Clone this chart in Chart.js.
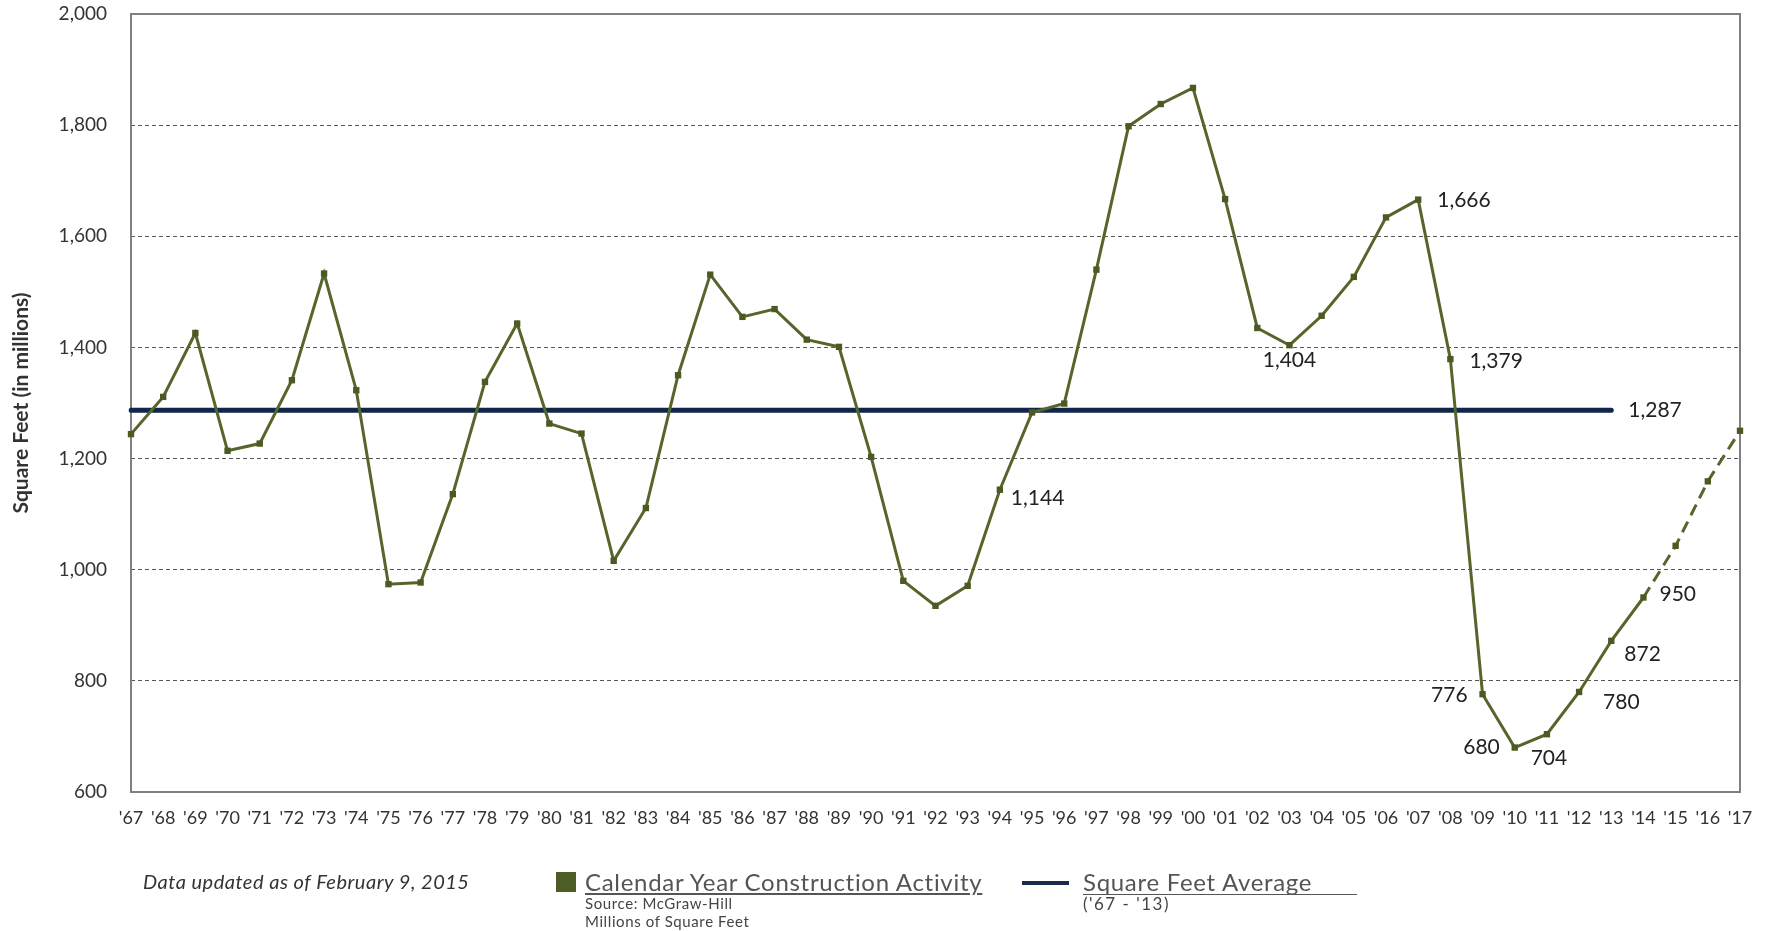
<!DOCTYPE html>
<html lang="en">
<head>
    <meta charset="UTF-8">
    <title>Construction Activity - Square Feet</title>
    <script src="https://cdn.jsdelivr.net/npm/chart.js"></script>
    <style>
        body {
            margin: 0;
            background: #ffffff;
            font-family: Lato, 'Noto Sans', sans-serif;
            color: #333;
        }
        #wrap {
            position: relative;
            width: 1769px;
            height: 931px;
        }
        .foot {
            position: absolute;
            white-space: nowrap;
            line-height: 1;
        }
        .note { left: 143px; top: 871px; font-size: 20px; letter-spacing: 0.5px; font-style: italic; color: #333; }
        .swatch { left: 556px; top: 872px; width: 20px; height: 20px; background: #4e5c26; }
        .leg1 { left: 585px; top: 870px; font-size: 24px; letter-spacing: 0.7px; color: #555; text-decoration: underline; }
        .small { font-size: 15px; letter-spacing: 0.6px; color: #444; }
        .navy { left: 1022px; top: 881px; width: 47px; height: 4px; background: #1b2a4a; }
        .leg2 { left: 1083px; top: 870px; width: 274px; font-size: 24px; letter-spacing: 0.7px; color: #555; border-bottom: 1px solid #555; }
        .range { left: 1083px; top: 895px; font-size: 17px; letter-spacing: 1.5px; color: #444; }
    </style>
</head>
<body>
<div id="wrap">
    <canvas id="chart"></canvas>
    <div class="foot note">Data updated as of February 9, 2015</div>
    <div class="foot swatch"></div>
    <div class="foot leg1">Calendar Year Construction Activity</div>
    <div class="foot small" style="left:585px; top:896px;">Source: McGraw-Hill</div>
    <div class="foot small" style="left:585px; top:914px;">Millions of Square Feet</div>
    <div class="foot navy"></div>
    <div class="foot leg2">Square Feet Average</div>
    <div class="foot range">('67 - '13)</div>
</div>

<script>
    const years = ["'67", "'68", "'69", "'70", "'71", "'72", "'73", "'74", "'75", "'76",
                   "'77", "'78", "'79", "'80", "'81", "'82", "'83", "'84", "'85", "'86",
                   "'87", "'88", "'89", "'90", "'91", "'92", "'93", "'94", "'95", "'96",
                   "'97", "'98", "'99", "'00", "'01", "'02", "'03", "'04", "'05", "'06",
                   "'07", "'08", "'09", "'10", "'11", "'12", "'13", "'14", "'15", "'16", "'17"];

    // calendar year construction activity, millions of sq ft ('15-'17 projected)
    const activity = [1244, 1311, 1426, 1214, 1227, 1341, 1533, 1323, 974, 977,
                      1136, 1338, 1443, 1263, 1245, 1016, 1111, 1350, 1531, 1455,
                      1469, 1414, 1401, 1203, 980, 935, 971, 1144, 1283, 1299,
                      1540, 1798, 1838, 1867, 1667, 1435, 1404, 1457, 1527, 1634,
                      1666, 1379, 776, 680, 704, 780, 872, 950, 1043, 1159, 1250];

    const averageValue = 1287;
    const averageFrom = "'67";
    const averageTo = "'13";
    const lastActual = "'14";

    const yTicks = [600, 800, 1000, 1200, 1400, 1600, 1800, 2000];

    const fmt = v => v.toLocaleString('en-US');

    const i0 = years.indexOf(averageFrom), i1 = years.indexOf(averageTo);
    const average = years.map((_, i) => (i >= i0 && i <= i1) ? averageValue : null);
    const dashFrom = years.indexOf(lastActual);

    // which points get a value label, and where it sits relative to the point
    const notes = [
        { year: "'07", ds: 0, align: 'left',   dx: 19,  dy: 1 },
        { year: "'03", ds: 0, align: 'center', dx: 0,   dy: 15 },
        { year: "'08", ds: 0, align: 'left',   dx: 19,  dy: 2 },
        { year: "'13", ds: 1, align: 'left',   dx: 17,  dy: 0 },
        { year: "'94", ds: 0, align: 'left',   dx: 11,  dy: 9 },
        { year: "'14", ds: 0, align: 'left',   dx: 16,  dy: -3 },
        { year: "'13", ds: 0, align: 'left',   dx: 13,  dy: 13 },
        { year: "'12", ds: 0, align: 'left',   dx: 24,  dy: 10 },
        { year: "'09", ds: 0, align: 'right',  dx: -15, dy: 1 },
        { year: "'10", ds: 0, align: 'right',  dx: -15, dy: 0 },
        { year: "'11", ds: 0, align: 'center', dx: 2,   dy: 24 }
    ];

    const framePlugin = {
        id: 'frame',
        beforeDatasetsDraw(chart) {
            const { ctx, chartArea: a } = chart;
            ctx.save();
            ctx.strokeStyle = '#808080';
            ctx.lineWidth = 2;
            ctx.strokeRect(a.left, a.top, a.right - a.left, a.bottom - a.top);
            ctx.restore();
        },
        afterDatasetsDraw(chart) {
            const { ctx } = chart;
            const series = [activity, average];
            ctx.save();
            ctx.font = '21px Lato';
            ctx.fillStyle = '#222';
            ctx.textBaseline = 'middle';
            notes.forEach(n => {
                const idx = years.indexOf(n.year);
                const pt = chart.getDatasetMeta(n.ds).data[idx];
                ctx.textAlign = n.align;
                ctx.fillText(fmt(series[n.ds][idx]), pt.x + n.dx, pt.y + n.dy);
            });
            ctx.restore();
        }
    };

    const olive = '#56652b';

    new Chart(document.getElementById('chart'), {
        type: 'line',
        data: {
            labels: years,
            datasets: [{
                label: 'Calendar Year Construction Activity',
                data: activity,
                borderColor: olive,
                backgroundColor: '#4b5923',
                borderWidth: 3,
                pointStyle: 'rect',
                pointRadius: 4.5,
                pointBorderWidth: 0,
                tension: 0,
                clip: false,
                segment: {
                    borderDash: c => c.p0DataIndex >= dashFrom ? [12, 7] : undefined
                },
                order: 1
            }, {
                label: 'Square Feet Average',
                data: average,
                borderColor: '#13254a',
                borderWidth: 5,
                pointRadius: 0,
                borderCapStyle: 'round',
                order: 2
            }]
        },
        options: {
            responsive: true,
            maintainAspectRatio: false,
            animation: false,
            layout: { padding: { top: 14, right: 29, left: 0, bottom: 0 } },
            plugins: {
                legend: { display: false },
                tooltip: { enabled: false }
            },
            scales: {
                x: {
                    offset: false,
                    grid: { display: false, drawTicks: false },
                    border: { display: false },
                    ticks: {
                        autoSkip: false,
                        maxRotation: 0,
                        padding: 15,
                        color: '#333',
                        font: { family: 'Lato', size: 18 }
                    },
                    afterFit: s => { s.height = 139; }
                },
                y: {
                    min: 600,
                    max: 2000,
                    afterBuildTicks: s => { s.ticks = yTicks.map(v => ({ value: v })); },
                    grid: {
                        drawTicks: false,
                        color: c => (c.tick.value === 600 || c.tick.value === 2000) ? 'rgba(0,0,0,0)' : '#555',
                        lineWidth: 1
                    },
                    border: { display: false, dash: [4, 3] },
                    ticks: {
                        padding: 24,
                        color: '#333',
                        font: { family: 'Lato', size: 19 },
                        callback: v => fmt(v)
                    },
                    title: {
                        display: true,
                        text: 'Square Feet (in millions)',
                        color: '#333',
                        font: { family: 'Lato', size: 21, weight: 'bold' },
                        padding: { top: 9, bottom: 0 }
                    },
                    afterFit: s => {
                        s.width = 131;
                        s.paddingTop = 10;
                        s.paddingBottom = 10;
                    }
                }
            }
        },
        plugins: [framePlugin]
    });
</script>
</body>
</html>
